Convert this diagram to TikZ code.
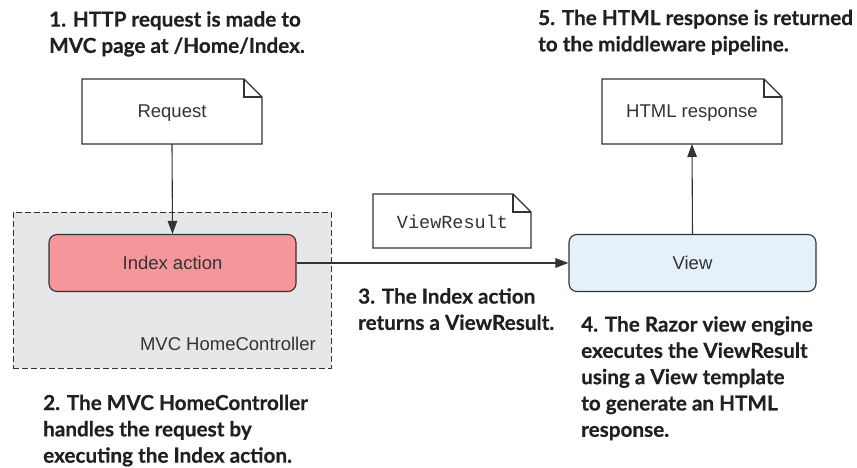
\documentclass[tikz,border=0pt]{standalone}
\usepackage{fontspec}
\setmainfont{Liberation Sans}
\setmonofont{Liberation Mono}
\newfontfamily\capfont[BoldFeatures={FakeBold=0.5}]{Lato}
\usetikzlibrary{arrows.meta}
\definecolor{ink}{HTML}{333333}
\definecolor{capink}{HTML}{231F20}
\tikzset{
 x=1pt,y=-1pt,
 line/.style={draw=ink,line width=1.1pt},
 docbody/.style={line,fill=white,line join=miter},
 lbl/.style={text=ink,inner sep=0pt},
 captext/.style={font=\capfont\bfseries\fontsize{20.7}{26.3}\selectfont,text=capink,align=left,anchor=north west,inner sep=0pt},
 conn/.style={line,-{Triangle[length=13pt,width=9.5pt]}},
 rbox/.style={line,rounded corners=8pt,minimum height=57pt,minimum width=247pt,inner sep=0pt,font=\fontsize{18.5}{18.5}\selectfont,text=ink},
}
\newcommand{\docshape}[5]{% name x1 y1 x2 y2
 \draw[docbody] (#2,#3) -- (#4-18,#3) -- (#4,#3+18) -- (#4,#5) -- (#2,#5) -- cycle;
 \draw[line,line join=miter] (#4-18,#3) -- (#4-18,#3+18) -- (#4,#3+18);
 \coordinate (#1) at ({(#2+#4)/2},{(#3+#5)/2});
}
\begin{document}
\begin{tikzpicture}
\useasboundingbox (0,0) rectangle (857,468);
% controller
\node[draw=ink,line width=1pt,dash pattern=on 6pt off 3pt,fill={rgb,255:red,230;green,231;blue,232},minimum width=318pt,minimum height=156pt,inner sep=0pt] (ctrl) at (172,290) {};
\node[lbl,anchor=base east,font=\fontsize{18.5}{18.5}\selectfont] (ctrllbl) at (316,350) {MVC HomeController};
% documents
\docshape{reqc}{82}{79}{262}{144}
\node[lbl,font=\fontsize{18.5}{18.5}\selectfont] (req) at ([yshift=-2pt]reqc) {Request};
\docshape{respc}{602}{79}{782}{144}
\node[lbl,font=\fontsize{18.5}{18.5}\selectfont] (resp) at ([yshift=-2pt]respc) {HTML response};
\docshape{vrc}{373}{194}{531}{248}
\node[lbl,font=\ttfamily\fontsize{18.5}{18.5}\selectfont] (vr) at ([xshift=0.5pt,yshift=-1pt]vrc) {ViewResult};
% coordinates on doc edges
\coordinate (reqb) at (172,144);
\coordinate (respb) at (692,144);
% boxes
\node[rbox,fill={rgb,255:red,245;green,150;blue,155}] (idx) at (172.5,263) {Index action};
\node[rbox,fill={rgb,255:red,228;green,241;blue,250}] (view) at (692.5,263) {View};
% connectors
\draw[conn] (reqb) -- (idx.north);
\draw[conn] (idx.east) -- (view.west);
\draw[conn] (view.north) -- (respb);
% captions
\node[captext] (c1) at (49,11) {1. HTTP request is made to\\MVC page at /Home/Index.};
\node[captext] (c5) at (538,9.5) {5. The HTML response is returned\\to the middleware pipeline.};
\node[captext] (c3) at (358,288) {3. The Index action\\returns a ViewResult.};
\node[captext] (c4) at (581,316) {4. The Razor view engine\\executes the ViewResult\\using a View template\\to generate an HTML\\response.};
\node[captext] (c2) at (43,394.5) {2. The MVC HomeController\\handles the request by\\executing the Index action.};
\end{tikzpicture}
\end{document}
